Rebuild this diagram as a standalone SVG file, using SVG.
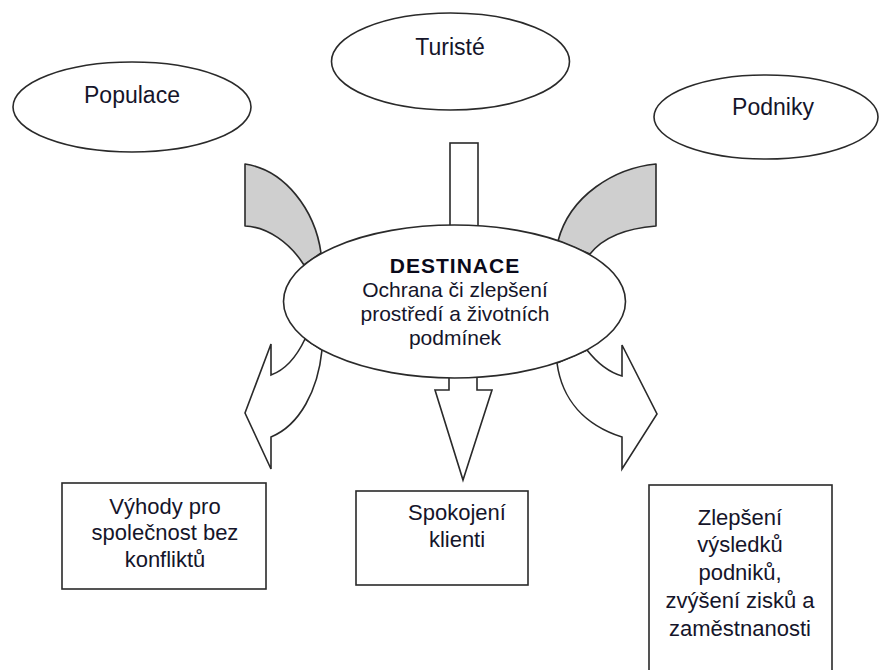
<svg xmlns="http://www.w3.org/2000/svg" width="882" height="670" viewBox="0 0 882 670">
<style>
.sh{fill:#fff;stroke:#2a2a2a;stroke-width:1.6}
.gr{fill:#cfcfcf;stroke:#2a2a2a;stroke-width:1.6;stroke-linejoin:round}
.ar{fill:#fff;stroke:#2a2a2a;stroke-width:1.6;stroke-linejoin:miter}
.t{font-family:"Liberation Sans",Arial,sans-serif;font-size:23px;fill:#15152a;text-anchor:middle}
.tc{font-family:"Liberation Sans",Arial,sans-serif;font-size:21px;fill:#15152a;text-anchor:middle}
.tb{font-family:"Liberation Sans",Arial,sans-serif;font-size:21px;font-weight:bold;fill:#0a0a1a;text-anchor:middle;letter-spacing:1px}
.tx{font-family:"Liberation Sans",Arial,sans-serif;font-size:22px;fill:#15152a;text-anchor:middle}
</style>
<rect width="882" height="670" fill="#fff"/>
<g id="connectors">
<path class="gr" d="M245,164 C285,170 315,210 321,253 L304,265 C290,243 268,227 245,226 Z"/>
<path class="gr" d="M656,164 L656,226 C630,228 605,235 590,254 L558,241 C570,195 615,168 656,164 Z"/>
<rect class="ar" x="450" y="143" width="28" height="92"/>
<path class="ar" d="M305,339 C296,358 285,370 271,375 L271,344 L245,413 L271,469 L271,437 C300,425 318,390 322,350 Z"/>
<path class="ar" d="M449,370 L449,390 L435,390 L463,480 L492,390 L477,390 L477,370 Z"/>
<path class="ar" d="M587,350 C598,364 608,372 622,376 L622,345 L657,414 L622,469 L622,437 C585,425 562,400 557,363 Z"/>
</g>
<g id="populace">
<ellipse class="sh" cx="132" cy="107" rx="119" ry="45"/>
<text class="t" x="132" y="103">Populace</text>
</g>
<g id="turiste">
<ellipse class="sh" cx="450.5" cy="61.5" rx="119" ry="48.5"/>
<text class="t" x="450" y="55">Turisté</text>
</g>
<g id="podniky">
<ellipse class="sh" cx="766" cy="117" rx="112" ry="42"/>
<text class="t" x="773" y="115">Podniky</text>
</g>
<g id="destinace">
<ellipse class="sh" cx="454.5" cy="301.5" rx="171" ry="76.5"/>
<text class="tb" x="455" y="273">DESTINACE</text>
<text class="tc" x="455" y="297">Ochrana či zlepšení</text>
<text class="tc" x="455" y="321">prostředí a životních</text>
<text class="tc" x="455" y="345">podmínek</text>
</g>
<g id="vyhody">
<rect class="sh" x="62" y="483" width="204" height="106"/>
<text class="tx" x="165" y="514">Výhody pro</text>
<text class="tx" x="165" y="540">společnost bez</text>
<text class="tx" x="165" y="567">konfliktů</text>
</g>
<g id="spokojeni">
<rect class="sh" x="356" y="491" width="172" height="94"/>
<text class="tx" x="457" y="520">Spokojení</text>
<text class="tx" x="457" y="547">klienti</text>
</g>
<g id="zlepseni">
<rect class="sh" x="649" y="485" width="183" height="200"/>
<text class="tx" x="740" y="525">Zlepšení</text>
<text class="tx" x="740" y="552">výsledků</text>
<text class="tx" x="740" y="580">podniků,</text>
<text class="tx" x="740" y="608">zvýšení zisků a</text>
<text class="tx" x="740" y="636">zaměstnanosti</text>
</g>
</svg>
